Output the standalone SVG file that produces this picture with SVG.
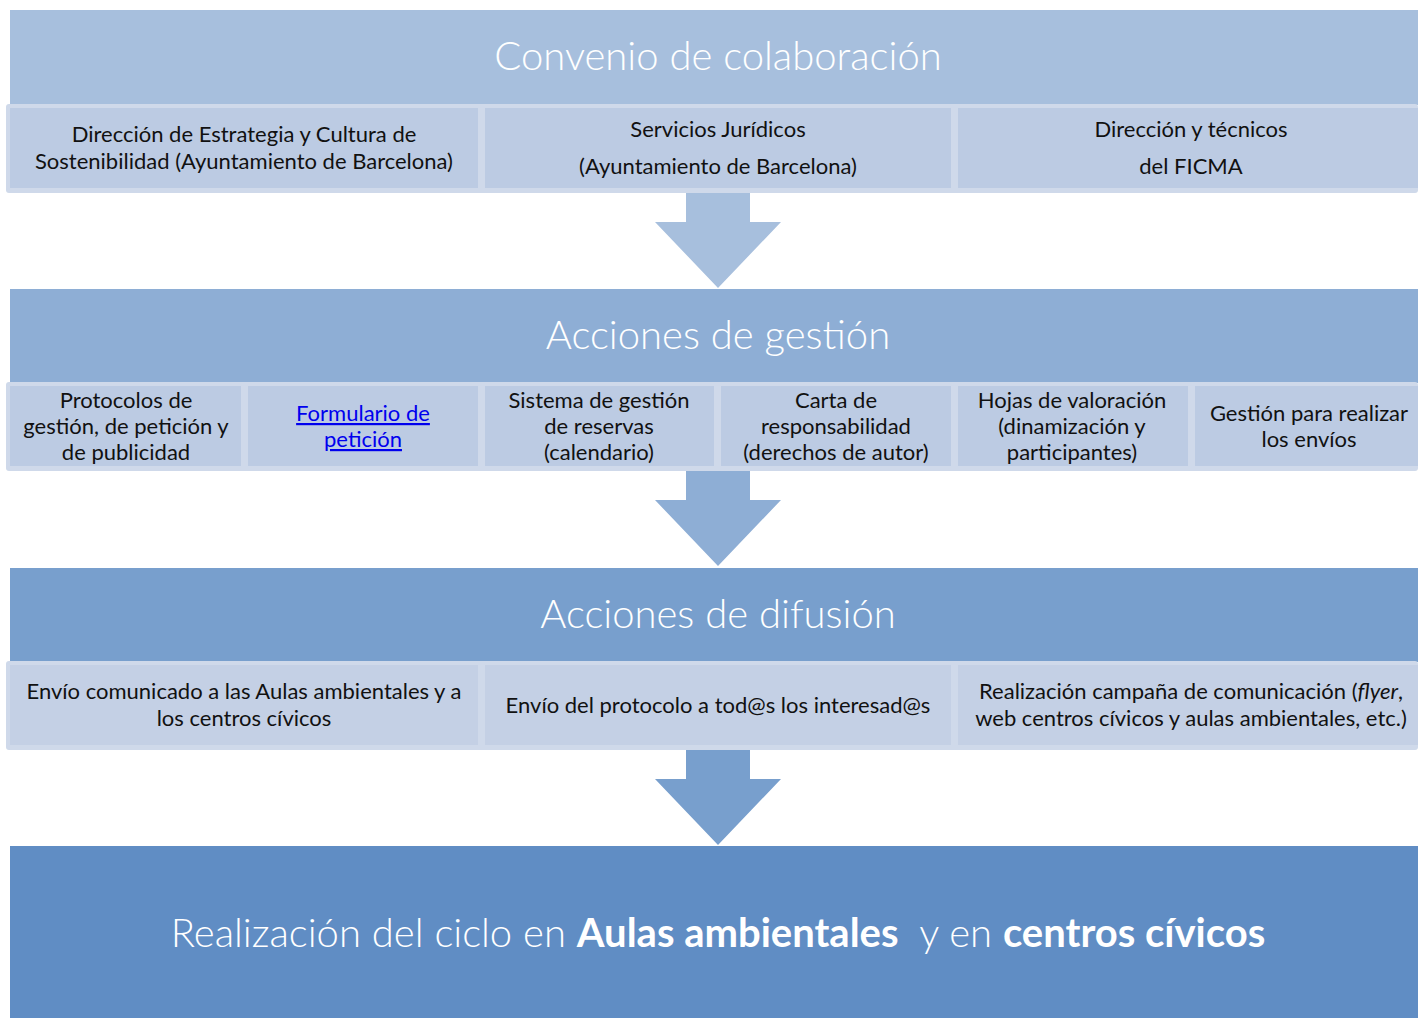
<svg xmlns="http://www.w3.org/2000/svg" width="1418" height="1018" viewBox="0 0 1418 1018">
<style>
.hdr{font-family:Lato,"Open Sans",sans-serif;font-weight:300;font-size:40px;fill:#fff;text-anchor:middle}
.row{fill:#cfd9ea}
.cell{fill:#bccbe3}
.cell3{fill:#c4d0e5}
.t{font-family:Lato,"Open Sans",sans-serif;font-size:22px;fill:#111;text-anchor:middle}
.lnk{fill:#0000ee;text-decoration:underline}
.fin{font-family:Lato,"Open Sans",sans-serif;font-weight:300;font-size:40px;fill:#fff;text-anchor:middle}
</style>
<rect width="1418" height="1018" fill="#fff"/>
<g id="connectors">
<path d="M686,193 H750 V222 H781 L718,288 L655,222 H686 Z" fill="#a7bfdd"/>
<path d="M686,471 H750 V500 H781 L718,566 L655,500 H686 Z" fill="#8eaed5"/>
<path d="M686,750 H750 V779 H781 L718,845 L655,779 H686 Z" fill="#789fcd"/>
</g>
<g id="convenio">
<rect x="10" y="10" width="1408" height="95" fill="#a7bfdd"/>
<text class="hdr" x="718" y="70">Convenio de colaboración</text>
<rect class="row" x="6" y="104" width="1412" height="89" rx="3"/>
</g>
<g id="direccion-estrategia">
<rect class="cell" x="10" y="108" width="468" height="80"/>
<text class="t" x="244" y="142">Dirección de Estrategia y Cultura de</text>
<text class="t" x="244" y="169">Sostenibilidad (Ayuntamiento de Barcelona)</text>
</g>
<g id="servicios-juridicos">
<rect class="cell" x="485" y="108" width="466" height="80"/>
<text class="t" x="718" y="137">Servicios Jurídicos</text>
<text class="t" x="718" y="174">(Ayuntamiento de Barcelona)</text>
</g>
<g id="direccion-ficma">
<rect class="cell" x="958" y="108" width="460" height="80"/>
<text class="t" x="1191" y="137">Dirección y técnicos</text>
<text class="t" x="1191" y="174">del FICMA</text>
</g>
<g id="gestion">
<rect x="10" y="289" width="1408" height="94" fill="#8eaed5"/>
<text class="hdr" x="718" y="349">Acciones de gestión</text>
<rect class="row" x="6" y="382" width="1412" height="89" rx="3"/>
</g>
<g id="protocolos">
<rect class="cell" x="10" y="386" width="231" height="80"/>
<text class="t" x="126" y="408">Protocolos de</text>
<text class="t" x="126" y="434">gestión, de petición y</text>
<text class="t" x="126" y="460">de publicidad</text>
</g>
<g id="formulario">
<rect class="cell" x="248" y="386" width="230" height="80"/>
<text class="t lnk" x="363" y="421">Formulario de</text>
<text class="t lnk" x="363" y="447">petición</text>
</g>
<g id="sistema-reservas">
<rect class="cell" x="485" y="386" width="229" height="80"/>
<text class="t" x="599" y="408">Sistema de gestión</text>
<text class="t" x="599" y="434">de reservas</text>
<text class="t" x="599" y="460">(calendario)</text>
</g>
<g id="carta">
<rect class="cell" x="721" y="386" width="230" height="80"/>
<text class="t" x="836" y="408">Carta de</text>
<text class="t" x="836" y="434">responsabilidad</text>
<text class="t" x="836" y="460">(derechos de autor)</text>
</g>
<g id="hojas">
<rect class="cell" x="958" y="386" width="230" height="80"/>
<text class="t" x="1072" y="408">Hojas de valoración</text>
<text class="t" x="1072" y="434">(dinamización y</text>
<text class="t" x="1072" y="460">participantes)</text>
</g>
<g id="envios">
<rect class="cell" x="1195" y="386" width="223" height="80"/>
<text class="t" x="1309" y="421">Gestión para realizar</text>
<text class="t" x="1309" y="447">los envíos</text>
</g>
<g id="difusion">
<rect x="10" y="568" width="1408" height="94" fill="#789fcd"/>
<text class="hdr" x="718" y="628">Acciones de difusión</text>
<rect class="row" x="6" y="661" width="1412" height="89" rx="3"/>
</g>
<g id="envio-comunicado">
<rect class="cell3" x="10" y="665" width="468" height="80"/>
<text class="t" x="244" y="699">Envío comunicado a las Aulas ambientales y a</text>
<text class="t" x="244" y="726">los centros cívicos</text>
</g>
<g id="envio-protocolo">
<rect class="cell3" x="485" y="665" width="466" height="80"/>
<text class="t" x="718" y="713">Envío del protocolo a tod@s los interesad@s</text>
</g>
<g id="campana">
<rect class="cell3" x="958" y="665" width="460" height="80"/>
<text class="t" x="1191" y="699">Realización campaña de comunicación (<tspan font-style="italic">flyer</tspan>,</text>
<text class="t" x="1191" y="726">web centros cívicos y aulas ambientales, etc.)</text>
</g>
<g id="realizacion">
<rect x="10" y="846" width="1408" height="172" fill="#608dc4"/>
<text class="fin" x="718" y="947" xml:space="preserve">Realización del ciclo en <tspan font-weight="700">Aulas ambientales</tspan>  y en <tspan font-weight="700">centros cívicos</tspan></text>
</g>
</svg>
